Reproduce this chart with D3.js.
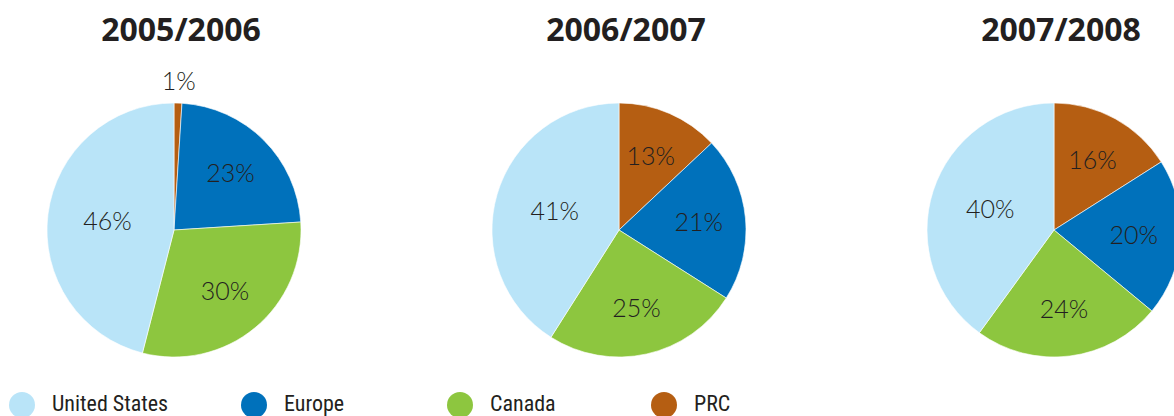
<!DOCTYPE html>
<html>
<head>
<meta charset="utf-8">
<script src="https://cdn.jsdelivr.net/npm/d3@7"></script>
<style>
  html, body { margin: 0; padding: 0; background: #fff; }
  svg { display: block; }
</style>
</head>
<body>
<div id="chart"></div>
<script>
// region shares per fiscal year, clockwise from 12 o'clock
const regions = ['PRC', 'Europe', 'Canada', 'United States'];
const years = ['2005/2006', '2006/2007', '2007/2008'];
const share0506 = [1, 23, 30, 46];
const share0607 = [13, 21, 25, 41];
const share0708 = [16, 20, 24, 40];
const legendOrder = ['United States', 'Europe', 'Canada', 'PRC'];

const colors = {
  'United States': '#b9e4f8',
  'Europe': '#0071bb',
  'Canada': '#8dc63f',
  'PRC': '#b55e12'
};

const width = 1174, height = 416;
const R = 127;

const svg = d3.select('#chart').append('svg')
  .attr('width', width)
  .attr('height', height);

const x = d3.scaleOrdinal().domain(years).range([174, 619, 1054]);
const legendX = d3.scaleOrdinal().domain(legendOrder).range([22, 254, 460, 664]);

const pie = d3.pie().sort(null).value(d => d.value);
const arc = d3.arc().innerRadius(0).outerRadius(R);

const series = [share0506, share0607, share0708];

years.forEach((yr, i) => {
  const data = regions.map((r, j) => ({ region: r, value: series[i][j] }));
  const g = svg.append('g').attr('transform', `translate(${x(yr)},230)`);

  g.selectAll('path')
    .data(pie(data))
    .enter()
    .append('path')
    .attr('d', arc)
    .attr('fill', d => colors[d.data.region])
    .attr('stroke', '#fff')
    .attr('stroke-width', 0.6);

  g.selectAll('text')
    .data(pie(data))
    .enter()
    .append('text')
    .attr('transform', d => {
      const a = (d.startAngle + d.endAngle) / 2;
      let r = d.data.region === 'United States' ? 67 : 80;
      if (d.data.value < 5) r = R + 22;
      return `translate(${Math.sin(a) * r},${-Math.cos(a) * r})`;
    })
    .attr('text-anchor', 'middle')
    .attr('dy', '0.35em')
    .style('font-family', 'Lato, "Open Sans", sans-serif')
    .style('font-weight', 300)
    .style('font-size', '25px')
    .attr('fill', '#231f20')
    .text(d => d.data.value + '%');

  svg.append('text')
    .attr('x', x(yr) + 7)
    .attr('y', 41)
    .attr('text-anchor', 'middle')
    .style('font-family', '"Open Sans", Lato, sans-serif')
    .style('font-weight', 700)
    .style('font-size', '32px')
    .attr('fill', '#231f20')
    .text(yr);
});

const legend = svg.selectAll('.legend')
  .data(legendOrder)
  .enter()
  .append('g')
  .attr('class', 'legend')
  .attr('transform', d => `translate(${legendX(d)},405)`);

legend.append('circle')
  .attr('r', 13)
  .attr('fill', d => colors[d]);

legend.append('text')
  .attr('x', 30)
  .attr('y', 6)
  .style('font-family', '"Liberation Sans Narrow", "Roboto Condensed", sans-serif')
  .style('font-size', '22px')
  .attr('fill', '#231f20')
  .text(d => d);
</script>
</body>
</html>
